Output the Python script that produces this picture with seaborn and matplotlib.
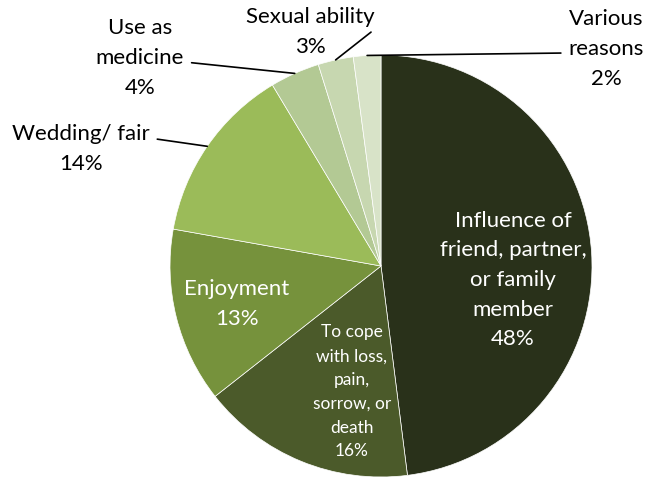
import numpy as np
import seaborn as sns
import matplotlib
matplotlib.use("Agg")
import matplotlib.pyplot as plt

# slices, clockwise from 12 o'clock
reasons = [
    "Influence of\nfriend, partner,\nor family\nmember",
    "To cope\nwith loss,\npain,\nsorrow, or\ndeath",
    "Enjoyment",
    "Wedding/ fair",
    "Use as\nmedicine",
    "Sexual ability",
    "Various\nreasons",
]
shares = [48.0, 16.4, 13.4, 13.6, 3.8, 2.7, 2.1]
colors = ["#29311a", "#4b5a2a", "#76923c", "#9bbb59", "#b3c994", "#c7d7b0", "#d8e3c8"]

sns.set_theme(style="white")
plt.rcParams["font.family"] = ["Lato", "DejaVu Sans"]

W, H = 649, 478
fig = plt.figure(figsize=(W / 100, H / 100), dpi=100)
ax = fig.add_axes([0, 0, 1, 1])


def px(x, y):
    # pixel coords (top-left origin) -> data coords
    return (x, H - y)


cx, cy = px(381, 266)
R = 211
wedges, _ = ax.pie(shares, colors=colors, startangle=90, counterclock=False,
                   center=(cx, cy), radius=R,
                   wedgeprops=dict(edgecolor="white", linewidth=0.5))
ax.set_xlim(0, W)
ax.set_ylim(0, H)
ax.set_aspect("equal")
ax.axis("off")

labels = [f"{r}\n{s:.0f}%" for r, s in zip(reasons, shares)]

# labels inside the pie
inside = {0: (513, 280, 16), 1: (352, 392, 12.5), 2: (237, 304, 16)}
for i, (x, y, fs) in inside.items():
    ax.text(*px(x, y), labels[i], color="white", fontsize=fs, ha="center",
            va="center", linespacing=1.6)

# labels outside with leader lines
outside = {
    3: (81, 149, (1.0, 0.72)),
    4: (140, 58, (1.0, 0.45)),
    5: (310, 32, (1.0, 0.55)),
    6: (606, 49, (0.0, 0.45)),
}
for i, (x, y, rel) in outside.items():
    w = wedges[i]
    mid = np.deg2rad((w.theta1 + w.theta2) / 2)
    tip = (cx + R * np.cos(mid), cy + R * np.sin(mid))
    ax.annotate(labels[i], xy=tip, xytext=px(x, y), fontsize=16, color="black",
                ha="center", va="center", linespacing=1.6,
                arrowprops=dict(arrowstyle="-", color="black", lw=1.2,
                                relpos=rel, shrinkA=3, shrinkB=0))

fig.savefig("out.png", dpi=100)
